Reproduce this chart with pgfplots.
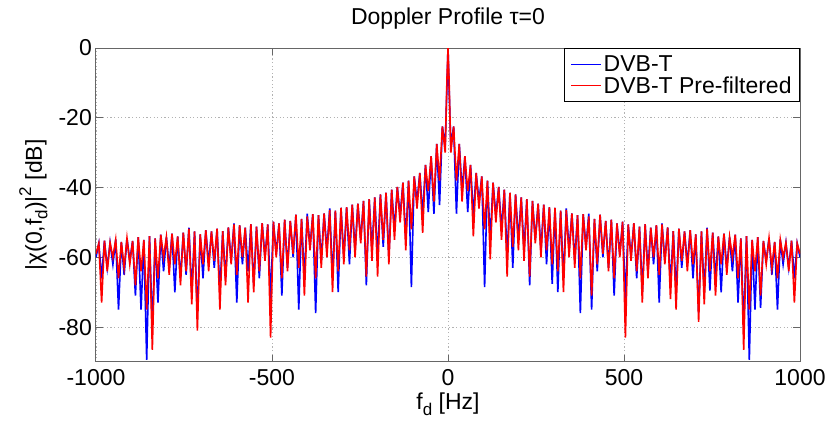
\documentclass[border=0pt]{standalone}
\usepackage{pgfplots}
\pgfplotsset{compat=1.18}
\usepackage{pgfplotstable}
\usepackage{fontspec}
\setmainfont{Liberation Sans}
\definecolor{mblue}{RGB}{0,0,255}
\definecolor{mred}{RGB}{255,0,0}
\pgfplotstableread{
x b r
-1000 -60 -59
-992 -56 -56
-984 -66 -73
-976 -55.2 -55.2
-968 -63 -64
-960 -55.8 -55.8
-952 -62 -60
-944 -54.9 -54.9
-936 -75 -66
-928 -55.6 -55.6
-920 -65 -63
-912 -54.5 -54.5
-904 -61 -62
-896 -55.3 -55.3
-888 -71 -68
-880 -54.2 -54.2
-872 -75 -64
-864 -55 -55
-856 -89.4 -75
-848 -53.9 -53.9
-840 -80 -86.5
-832 -54.6 -54.6
-824 -73 -66
-816 -53.5 -53.5
-808 -64 -60
-800 -54.2 -54.2
-792 -63 -65
-784 -53.2 -53.2
-776 -70 -62
-768 -54 -54
-760 -66 -68
-752 -52.9 -52.9
-744 -65 -64
-736 -51.5 -51.8
-728 -70 -73.5
-720 -52.6 -52.6
-712 -76 -81
-704 -53.4 -53.4
-696 -66 -62
-688 -52.2 -52.2
-680 -62 -64
-672 -52.6 -52.6
-664 -63 -61
-656 -51.8 -51.8
-648 -70 -75
-640 -52.5 -52.5
-632 -66 -68
-624 -51.4 -51.4
-616 -61 -62
-608 -50.3 -50.6
-600 -73 -65
-592 -50.8 -50.8
-584 -62 -60
-576 -51.5 -51.5
-568 -64 -73
-560 -50.5 -50.5
-552 -68 -70
-544 -51.2 -51.2
-536 -66 -64
-528 -50.2 -50.2
-520 -60 -61
-512 -50.6 -50.6
-504 -72 -83
-496 -49.8 -49.8
-488 -59 -60
-480 -50.3 -50.3
-472 -71 -66
-464 -49.2 -49.2
-456 -63 -64
-448 -49.6 -49.6
-440 -60 -59
-432 -47.8 -47.8
-424 -75 -63
-416 -49 -49
-408 -66 -71
-400 -47.5 -48.3
-392 -57 -58
-384 -47.6 -47.6
-376 -76 -66
-368 -47.9 -47.9
-360 -61 -63
-352 -47.4 -47.4
-344 -58 -60
-336 -46 -46.4
-328 -66 -70
-320 -46.6 -46.6
-312 -70 -64
-304 -45.8 -45.8
-296 -60 -62
-288 -45.6 -45.6
-280 -62 -58
-272 -44.9 -44.9
-264 -58 -60
-256 -44.6 -44.6
-248 -55 -56
-240 -43.8 -43.8
-232 -68 -65.5
-224 -43.3 -43.3
-216 -58 -61
-208 -42.8 -42.8
-200 -60 -65.5
-192 -42 -42
-184 -57 -55
-176 -41.5 -41.5
-168 -60 -62
-160 -40.6 -40.6
-152 -52 -55
-144 -39.8 -39.8
-136 -48 -50
-128 -38.6 -38.6
-120 -55 -58
-112 -38 -38
-104 -68.5 -52
-96 -36.8 -36.8
-88 -44 -46
-80 -35.8 -35.8
-72 -48 -53
-64 -33.5 -33.5
-56 -47 -41
-48 -31 -31
-40 -47.5 -44
-32 -27.5 -27.5
-24 -45 -38
-16 -22.5 -22.5
-8 -28 -30
-3 -11 -9
0 0 0
3 -11 -9
8 -28 -30
16 -22.5 -22.5
24 -47.5 -38
32 -27.5 -27.5
40 -41 -44
48 -31 -31
56 -47 -41
64 -33.5 -33.5
72 -48 -54
80 -35.8 -35.8
88 -44 -46
96 -36.8 -36.8
104 -68.5 -52
112 -38 -38
120 -55 -60.6
128 -38.6 -38.6
136 -48 -50
144 -39.8 -39.8
152 -52 -55
160 -40.6 -40.6
168 -60 -65.5
176 -41.5 -41.5
184 -63 -57
192 -42 -42
200 -55 -58
208 -42.8 -42.8
216 -58 -61
224 -43.3 -43.3
232 -68 -65.5
240 -43.8 -43.8
248 -55 -56
256 -44.6 -44.6
264 -58 -60
272 -44.9 -44.9
280 -62 -58
288 -45.6 -45.6
296 -67.6 -62
304 -45.8 -45.8
312 -70 -64
320 -46.6 -46.6
328 -66 -70
336 -46 -46.4
344 -58 -60
352 -47.4 -47.4
360 -61 -63
368 -47.9 -47.9
376 -76 -66
384 -47.6 -47.6
392 -57 -58
400 -47.5 -48.3
408 -75 -71
416 -49 -49
424 -64 -62
432 -47.8 -47.8
440 -60 -59
448 -49.6 -49.6
456 -63 -64
464 -49.2 -49.2
472 -71 -66
480 -50.3 -50.3
488 -59 -60
496 -49.8 -49.8
504 -72 -83
512 -50.6 -50.6
520 -60 -61
528 -50.2 -50.2
536 -66 -64
544 -51.2 -51.2
552 -70 -73
560 -50.5 -50.5
568 -64 -66
576 -51.5 -51.5
584 -62 -60
592 -50.8 -50.8
600 -73 -65
608 -50.3 -50.6
616 -61 -62
624 -51.4 -51.4
632 -68 -72
640 -52.5 -52.5
648 -70 -75
656 -51.8 -51.8
664 -63 -61
672 -52.6 -52.6
680 -62 -64
688 -52.2 -52.2
696 -66 -62
704 -53.4 -53.4
712 -76 -78.5
720 -52.6 -52.6
728 -70 -73.5
736 -51.5 -51.8
744 -69.5 -64
752 -52.9 -52.9
760 -66 -71
768 -54 -54
776 -70 -62
784 -53.2 -53.2
792 -63 -65
800 -54.2 -54.2
808 -64 -60
816 -53.5 -53.5
824 -73 -66
832 -54.6 -54.6
840 -80 -86.5
848 -53.9 -53.9
856 -89.4 -75
864 -55 -55
872 -75 -64
880 -54.2 -54.2
888 -74.5 -71
896 -55.3 -55.3
904 -61 -62
912 -54.5 -54.5
920 -65 -63
928 -55.6 -55.6
936 -75 -66
944 -54.9 -54.9
952 -62 -60
960 -55.8 -55.8
968 -63 -64
976 -55.2 -55.2
984 -66 -73
992 -56 -56
1000 -60 -59
}\doppler
\begin{document}
\begin{tikzpicture}
\begin{axis}[
  scale only axis,
  width=704pt, height=314pt,
  xmin=-1000, xmax=1000, ymin=-90, ymax=0,
  xtick={-1000,-500,0,500,1000},
  ytick={-80,-60,-40,-20,0},
  font=\fontsize{23}{27}\selectfont,
  /pgf/number format/assume math mode=true,
  /pgf/number format/1000 sep={},
  xticklabel style={anchor=north, inner sep=0pt, yshift=-7pt},
  yticklabel style={anchor=east, inner sep=0pt, xshift=-4pt},
  grid=major,
  grid style={gray!60, line width=0.8pt, dash pattern=on 1.2pt off 2.4pt},
  axis line style={black!60, line width=1pt},
  tick style={black!60, line width=1pt},
  tick align=inside,
  major tick length=7pt,
  title={Doppler Profile τ=0},
  title style={at={([yshift=17pt]axis description cs:0.5,1)}, anchor=base, inner sep=0pt},
  xlabel={f\raisebox{-0.45ex}{\fontsize{17}{20}\selectfont d} [Hz]},
  xlabel style={at={([yshift=-48pt]axis description cs:0.5,0)}, anchor=base, inner sep=0pt},
  ylabel={|χ(0,f\raisebox{-0.45ex}{\fontsize{17}{20}\selectfont d})|\raisebox{0.9ex}{\fontsize{17}{20}\selectfont 2} [dB]},
  ylabel style={at={([xshift=-54pt]axis description cs:0,0.5)}, anchor=base, inner sep=0pt},
  legend cell align=left,
  legend style={at={(axis description cs:1,1)}, anchor=north east, draw=black, line width=0.8pt, fill=white, inner xsep=6pt, inner ysep=5pt, row sep=0pt, nodes={inner sep=2pt}},
  legend image code/.code={\draw[#1, line width=1pt] (0pt,0pt) -- (30pt,0pt);},
]
\addplot[mblue, line width=1.6pt] table[x=x, y=b] {\doppler};
\addlegendentry{DVB-T}
\addplot[mred, line width=1.6pt] table[x=x, y=r] {\doppler};
\addlegendentry{DVB-T Pre-filtered}
\end{axis}
\path ([shift={(-96pt,-59pt)}]current axis.south west) rectangle ([shift={(29pt,48pt)}]current axis.north east);
\end{tikzpicture}
\end{document}
